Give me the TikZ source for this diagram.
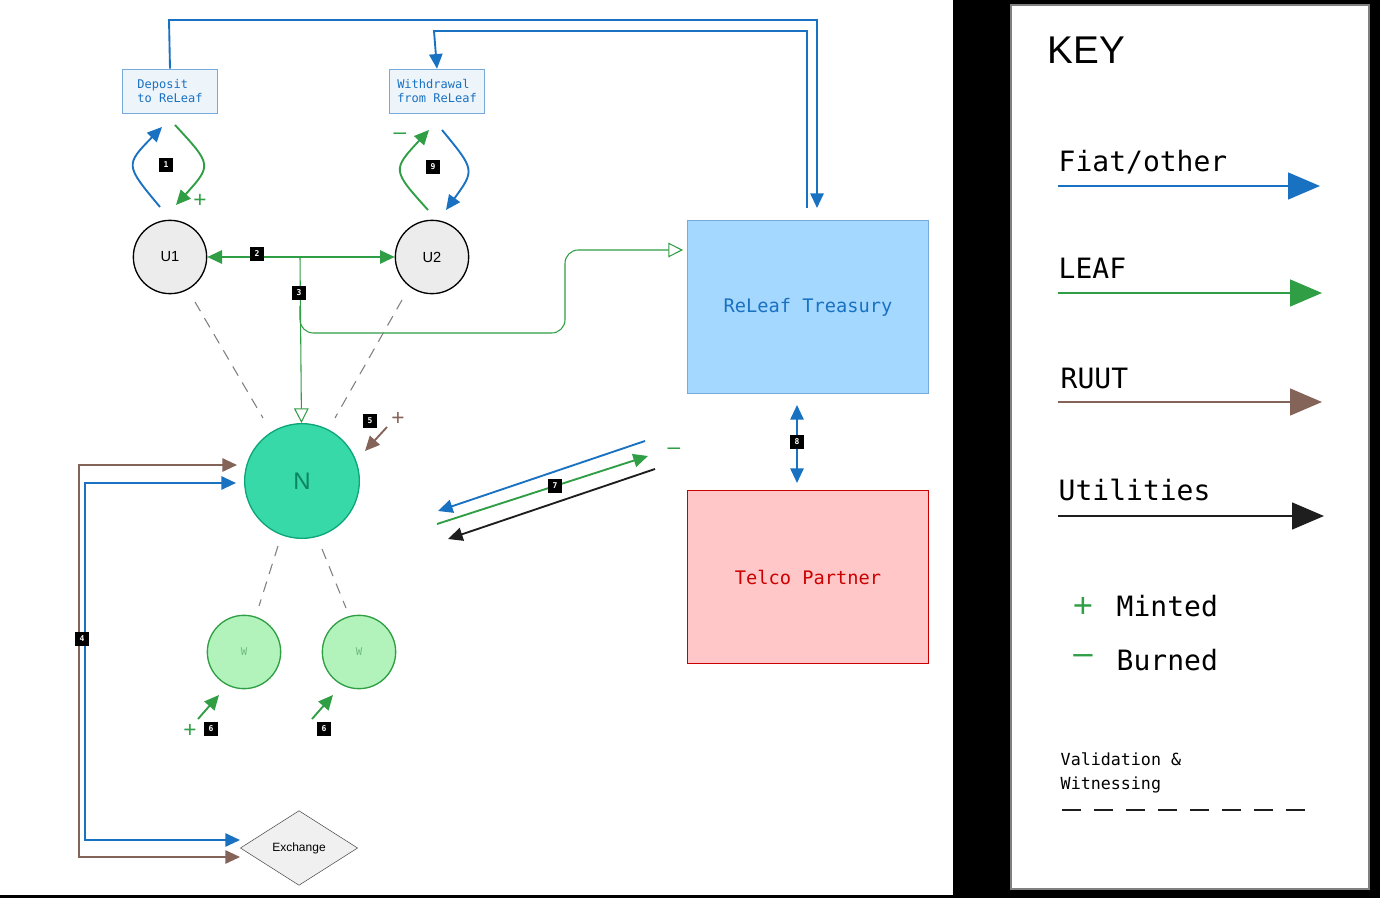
\documentclass[tikz,border=0pt]{standalone}
\usepackage{fontspec}
\setmainfont{Liberation Sans}
\newfontfamily\monof{DejaVu Sans Mono}
\usetikzlibrary{arrows.meta,shapes.geometric}
\definecolor{fiat}{HTML}{1971C2}
\definecolor{leaf}{HTML}{2F9E44}
\definecolor{ruut}{HTML}{846358}
\definecolor{util}{HTML}{1E1E1E}
\definecolor{nfill}{HTML}{38D9A9}
\definecolor{nline}{HTML}{0CA678}
\definecolor{tfill}{HTML}{A5D8FF}
\definecolor{wfill}{HTML}{B2F2BB}
\begin{document}
\begin{tikzpicture}
[
x=0.75pt,y=-0.75pt,
tip/.style={-{Triangle[length=11pt,width=10pt]}},
both/.style={{Triangle[length=11pt,width=10pt]}-{Triangle[length=11pt,width=10pt]}},
flow/.style={line width=1.4pt,#1},
badge/.style={fill=black,text=white,font=\monof\fontsize{6}{6}\selectfont\bfseries,inner sep=1pt,minimum size=11pt},
note/.style={draw=fiat!60,fill=fiat!8,text=fiat,font=\monof\fontsize{9}{11}\selectfont,align=left,minimum width=71pt,minimum height=33pt},
user/.style={draw=black,fill=gray!15,circle,line width=1pt,minimum size=55pt,font=\fontsize{11}{11}\selectfont},
wit/.style={draw=leaf,fill=wfill,circle,line width=1pt,minimum size=55pt,text=leaf!70,font=\monof\fontsize{8}{8}\selectfont},
vw/.style={gray,dash pattern=on 8pt off 6pt,line width=0.8pt},
sign/.style={font=\fontsize{17}{17}\selectfont,#1},
keytext/.style={font=\monof\fontsize{21}{21}\selectfont,anchor=west},
ktip/.style={line width=2pt,#1,-{Triangle[length=24pt,width=20pt]}},
]
\fill[black] (0,0) rectangle (1380,898);
\fill[white] (0,0) rectangle (953,895);
\draw[gray,line width=1.5pt,fill=white] (1011,5) rectangle (1369,889);
%Place the nodes
\node[note] (dep) at (170,91) {Deposit\\to ReLeaf};
\node[note] (wd) at (437,91) {Withdrawal\\from ReLeaf};
\node[user] (u1) at (170,257) {U1};
\node[user] (u2) at (432,257) {U2};
\node[draw=fiat!60,fill=tfill,minimum width=181pt,minimum height=130pt,text=fiat,font=\monof\fontsize{14}{14}\selectfont,line width=1pt] (tr) at (808,307) {ReLeaf Treasury};
\node[draw=red!80!black,fill=red!22!white,minimum width=181pt,minimum height=130pt,text=red!80!black,font=\monof\fontsize{14}{14}\selectfont,line width=1pt] (tp) at (808,577) {Telco Partner};
\node[circle,draw=nline,fill=nfill,minimum size=86pt,line width=1pt,text=nline!80!black,font=\fontsize{18}{18}\selectfont] (n) at (302,481) {N};
\node[wit] (w1) at (244,652) {W};
\node[wit] (w2) at (359,652) {W};
\node[diamond,draw=black!70,fill=gray!12,minimum width=88pt,minimum height=56pt,inner sep=0pt,font=\fontsize{9}{9}\selectfont] (ex) at (299,848) {Exchange};
\coordinate (j2) at (300,257);
\coordinate (j3) at (300,306);
%Badges and signs
\node[badge] (b1) at (166,165) {1};
\node[badge] (b9) at (433,167) {9};
\node[badge] (b5) at (370,421) {5};
\node[badge] (b6a) at (211,729) {6};
\node[badge] (b6b) at (324,729) {6};
\node[sign=leaf] (p1) at (200,201) {+};
\node[sign=leaf] (m9) at (400,136) {--};
\node[sign=ruut] (p5) at (398,419) {+};
\node[sign=leaf] (p6) at (190,731) {+};
\node[sign=leaf] (m7) at (674,451) {--};
%Draw the connections
\draw[flow=fiat,tip] (dep.north) -- (169,20) -- (817,20) -- (817,208);
\draw[flow=fiat,tip] (807,208) -- (807,31) -- (434,31) -- (wd.north);
\draw[flow=fiat,tip] (160,207) .. controls (125,165) .. (162,127);
\draw[flow=leaf,tip] (175,125) .. controls (212,165) .. (176,205);
\draw[flow=leaf,tip] (428,210) .. controls (392,170) .. (429,130);
\draw[flow=fiat,tip] (442,130) .. controls (475,170) .. (446,210);
\draw[flow=leaf,tip] (j2) -- (u1);
\draw[flow=leaf,tip] (j2) -- (u2);
\node[badge] (b2) at (257,254) {2};
\draw[leaf,line width=0.8pt,-{Triangle[open,length=11pt,width=11pt]}] (j2) -- (n);
\draw[leaf,line width=0.8pt,rounded corners=10pt,-{Triangle[open,length=11pt,width=11pt]}] (j3) -- (300,333) -- (565,333) -- (565,250) -- (683,250);
\node[badge] (b3) at (299,293) {3};
\draw[vw] (195,302) -- (263,418);
\draw[vw] (402,300) -- (335,418);
\draw[vw] (278,546) -- (259,606);
\draw[vw] (322,549) -- (346,608);
\draw[flow=ruut,tip] (387,427) -- (365,451);
\draw[flow=leaf,tip] (198,719) -- (219,695);
\draw[flow=leaf,tip] (312,719) -- (333,695);
\draw[flow=ruut,both] (237,465) -- (79,465) -- (79,857) -- (240,857);
\draw[flow=fiat,both] (236,483) -- (85,483) -- (85,840) -- (240,840);
\node[badge] (b4) at (82,639) {4};
\draw[flow=fiat,tip] (645,441) -- (438,511);
\draw[flow=leaf,tip] (437,524) -- (648,456);
\draw[flow=util,tip] (655,469) -- (448,539);
\node[badge] (b7) at (555,486) {7};
\draw[flow=fiat,both] (797,405) -- (797,483);
\node[badge] (b8) at (797,442) {8};
%Key
\node[font=\fontsize{29}{29}\selectfont,anchor=west] (key) at (1043,50) {KEY};
\node[keytext] (kf) at (1054,162) {Fiat/other};
\node[keytext] (kl) at (1054,268) {LEAF};
\node[keytext] (kr) at (1056,378) {RUUT};
\node[keytext] (ku) at (1054,490) {Utilities};
\coordinate (kf1) at (1058,186); \coordinate (kf2) at (1320,186);
\coordinate (kl1) at (1058,293); \coordinate (kl2) at (1322,293);
\coordinate (kr1) at (1058,402); \coordinate (kr2) at (1322,402);
\coordinate (ku1) at (1058,516); \coordinate (ku2) at (1324,516);
\draw[ktip=fiat] (kf1) -- (kf2);
\draw[ktip=leaf] (kl1) -- (kl2);
\draw[ktip=ruut] (kr1) -- (kr2);
\draw[ktip=util] (ku1) -- (ku2);
\node[sign=leaf,font=\fontsize{26}{26}\selectfont] (kp) at (1083,607) {+};
\node[keytext] (km) at (1112,606) {Minted};
\node[sign=leaf,font=\fontsize{26}{26}\selectfont] (kn) at (1083,660) {--};
\node[keytext] (kb) at (1112,660) {Burned};
\node[font=\monof\fontsize{12.5}{18}\selectfont,align=left,anchor=west] (kv) at (1056,773) {Validation \&\\Witnessing};
\coordinate (kd1) at (1062,810); \coordinate (kd2) at (1318,810);
\draw[util,line width=1.5pt,dash pattern=on 14pt off 10pt] (kd1) -- (kd2);
\end{tikzpicture}
\end{document}
